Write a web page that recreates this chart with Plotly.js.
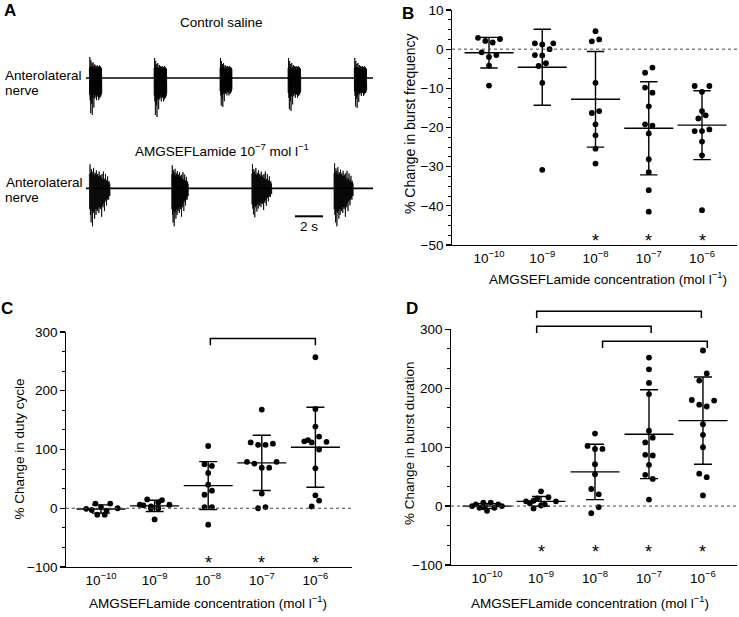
<!DOCTYPE html>
<html><head><meta charset="utf-8">
<script src="https://cdn.plot.ly/plotly-3.0.1.min.js"></script>
<style>html,body{margin:0;padding:0;background:#fff}#chart{width:739px;height:617px}</style>
</head><body><div id="chart"></div>
<script>
// ---------------- DATA ----------------
const concLabels = ['10<sup>−10</sup>','10<sup>−9</sup>','10<sup>−8</sup>','10<sup>−7</sup>','10<sup>−6</sup>'];
const xTitleText = 'AMGSEFLamide concentration (mol l<sup>−1</sup>)';

// Panel B: % change in burst frequency
const bfVals = [
  [2.9, 2.1, 1.7, 2.6, -0.8, -1.5, -2.0, -4.2, -9.3],
  [1.5, 1.2, 1.5, 0.0, -1.5, -1.6, -3.6, -4.3, -8.6, -30.8],
  [4.6, 2.0, 2.5, -8.6, -16.3, -15.8, -19.2, -22.0, -25.4, -29.2],
  [-6.0, -4.7, -9.8, -11.1, -14.6, -19.2, -19.5, -21.5, -28.1, -31.4, -36.0, -41.5],
  [-9.4, -9.4, -10.9, -15.8, -16.9, -17.7, -20.9, -20.9, -20.5, -23.6, -27.1, -41.1]
];
const bfJitter = [
  [-3, -1, 1, 3, -2, 2, 0, 0, 0],
  [-2, 0, 3, 2, -2, 0, 1, -1, 0, 0],
  [0, -1, 1, 0, -1, 1, 0, 0, 0, 0],
  [-1, 1, -1, 1, 0, -1, 1, 0, 0, 0, 0, 0],
  [-2, 2, 0, 0, 1, -1, -2, 0, 2, 0, 0, 0]
];
const bfMean = [-0.9, -4.6, -12.8, -20.2, -19.4];
const bfSD = [3.9, 9.7, 12.2, 11.9, 8.8];
const bfSig = [2, 3, 4];

// Panel C: % change in duty cycle
const dcVals = [
  [-1, 8, 8, 0, -3, 2, -4, -11, -11],
  [6, 15, 14, 6, 5, 3, 0, 0, -19, 10],
  [106, 75, 72, 60, 40, 23, 30, 2, 2, -28],
  [168, 112, 108, 108, 110, 79, 76, 69, 69, 79, 25, 0, 2],
  [257, 169, 139, 114, 116, 112, 122, 113, 100, 68, 22, 13, 3]
];
const dcJitter = [
  [-4, -1.5, 2.5, 4.5, -2.5, 0, 1.5, -1, 1],
  [-4, -2, 2, 4, -3, -1, -1, 1, 0, 1],
  [0, -1, 1, 0, 0, -1, 1, -1, 1, 0],
  [0, -3, -1, 1, 3, -4, -2, 0, 2, 4, 0, -1, 1],
  [0, 0, 0, -3, -2, -1, 1, 3, 1, 0, 0, 1, -1]
];
const dcMean = [-1.3, 4, 38.5, 77.3, 103.8];
const dcSD = [7, 9.6, 40.8, 47, 68];
const dcSig = [2, 3, 4];
const dcBrackets = [[2.04, 4.0, 289]];

// Panel D: % change in burst duration
const bdVals = [
  [0, 3, 6, 6, 3, 0, -3, -8, -3, -2],
  [25, 8, 9, 15, 8, 13, 5, 3, -4, 1],
  [123, 102, 97, 97, 71, 54, 29, 20, -2, -12],
  [252, 232, 209, 190, 128, 116, 108, 87, 86, 70, 53, 46, 11],
  [264, 225, 213, 180, 172, 169, 179, 139, 121, 100, 55, 49, 18]
];
const bdJitter = [
  [-4, -3, -1, 1, 3, 4, -2, 0, 2, -1],
  [0, -4, -2, 2, 4, -1, -3, 1, -2, 0],
  [0, -2, 0, 2, 0, 0, -1, 1, 1, -1],
  [0, 0, 0, 0, 0, 1, -1, -1, 1, 0, -1, 1, 0],
  [0, 1, -1, -3, -1, 1, 3, 0, 0, 0, -1, 1, 0]
];
const bdMean = [0, 8, 58, 122, 145];
const bdSD = [4, 8.3, 47, 75.5, 74];
const bdSig = [1, 2, 3, 4];
const bdBrackets = [[0.92, 3.97, 330.6], [0.92, 3.04, 305], [2.14, 4.08, 279.6]];

// Panel A: nerve recordings (time in s, amplitude in arbitrary units)
const recordingLength = 20.5;
const ctrlOnsets = [0.24, 4.86, 9.57, 14.43, 19.16];
const ctrlDurations = [0.89, 0.91, 0.86, 0.91, 0.89];
const ctrlPeakUp = [21, 20, 20, 20, 20];
const ctrlPeakDown = [37, 39, 29, 33, 30];
const ctrlTemplate = [0.5,-0.45, 1.0,-0.6, 0.55,-0.95, 0.85,-0.5, 0.55,-0.7, 0.7,-1.0, 0.5,-0.55, 0.75,-0.45,
  0.55,-0.8, 0.45,-0.5, 0.65,-0.55, 0.5,-0.45, 0.6,-0.5, 0.45,-0.6, 0.55,-0.45, 0.6,-0.5, 0.45,-0.5, 0.55,-0.6,
  0.5,-0.45, 0.6,-0.55, 0.5,-0.5, 0.55,-0.5, 0.5,-0.45, 0.45,-0.4];
const amgOnsets = [0.24, 6.12, 11.84, 17.71];
const amgDurations = [1.48, 1.19, 1.43, 1.38];
const amgPeakUp = [24, 23, 24, 25];
const amgPeakDown = [38, 38, 29, 38];
const amgTemplate = [0.6,-0.55, 1.0,-0.7, 0.65,-0.9, 0.8,-0.6, 0.7,-1.0, 0.6,-0.65, 0.85,-0.6, 0.55,-0.8,
  0.65,-0.55, 0.6,-0.7, 0.75,-0.55, 0.55,-0.6, 0.6,-0.5, 0.5,-0.65, 0.7,-0.5, 0.5,-0.55, 0.55,-0.5, 0.45,-0.75,
  0.6,-0.45, 0.4,-0.5, 0.7,-0.4, 0.35,-0.6, 0.4,-0.35, 0.6,-0.3, 0.3,-0.45, 0.35,-0.3, 0.5,-0.25, 0.25,-0.3,
  0.3,-0.2, 0.2,-0.2];
const scaleBarSeconds = 2;

// ---------------- LAYOUT HELPERS ----------------
const W = 739, H = 617;
const FONT = 'Liberation Sans, Arial, sans-serif';
const BLACK = '#000';
const FS = 13.5;
const JSTEP = 0.069;
const fx = px => px / W;
const fy = py => 1 - py / H;

const traces = [];
const shapes = [];
const annotations = [];
const layout = {
  width: W, height: H, margin: {l:0, r:0, t:0, b:0},
  paper_bgcolor: '#fff', plot_bgcolor: 'rgba(0,0,0,0)',
  showlegend: false, font: {family: FONT, size: FS, color: BLACK},
  shapes, annotations
};

function txt(text, px, py, size, extra) {
  annotations.push(Object.assign({
    text, x: fx(px), y: fy(py), xref: 'paper', yref: 'paper',
    xanchor: 'center', yanchor: 'middle', showarrow: false,
    font: {family: FONT, size, color: BLACK}
  }, extra || {}));
}

const panels = [
  {xa:'x', ya:'y', vals:bfVals, jit:bfJitter, mean:bfMean, sd:bfSD, sig:bfSig, sigY:-47.7,
   brackets:[], xpx:[452,737], ypx:[10,245], xr:[-0.695,4.657], yr:[-50,10], dtick:10, minor:2.5,
   meanW:35, capW:8.7},
  {xa:'x2', ya:'y2', vals:dcVals, jit:dcJitter, mean:dcMean, sd:dcSD, sig:dcSig, sigY:-84,
   brackets:dcBrackets, xpx:[66,352], ypx:[332,567], xr:[-0.653,4.683], yr:[-100,300], dtick:100, minor:100/3,
   meanW:35, capW:9},
  {xa:'x3', ya:'y3', vals:bdVals, jit:bdJitter, mean:bdMean, sd:bdSD, sig:bdSig, sigY:-69.6,
   brackets:bdBrackets, xpx:[451,737], ypx:[329.3,565], xr:[-0.667,4.63], yr:[-100,300], dtick:100, minor:100/3,
   meanW:35, capW:9}
];

panels.forEach(p => {
  const xk = 'xaxis' + p.xa.slice(1), yk = 'yaxis' + p.ya.slice(1);
  layout[xk] = {
    domain: [fx(p.xpx[0]), fx(p.xpx[1])], range: p.xr, anchor: p.ya,
    showgrid:false, zeroline:false, showline:true, linecolor:BLACK, linewidth:1.3,
    ticks:'', tickmode:'array', tickvals:[0,1,2,3,4], ticktext:concLabels,
    tickfont:{family:FONT, size:FS, color:BLACK}, fixedrange:true
  };
  layout[yk] = {
    domain: [fy(p.ypx[1]), fy(p.ypx[0])], range: p.yr, anchor: p.xa,
    showgrid:false, zeroline:false, showline:true, linecolor:BLACK, linewidth:1.3,
    ticks:'outside', ticklen:4.5, tickwidth:1.3, tickcolor:BLACK, tick0:0, dtick:p.dtick,
    minor:{ticks:'outside', ticklen:2.5, tickwidth:1, tickcolor:BLACK, tick0:0, dtick:p.minor},
    tickfont:{family:FONT, size:FS, color:BLACK}, fixedrange:true
  };
  const toFx = v => (v - p.xr[0]) / (p.xr[1] - p.xr[0]);
  const toFy = v => (v - p.yr[0]) / (p.yr[1] - p.yr[0]);
  // zero reference line
  shapes.push({type:'line', xref:p.xa+' domain', yref:p.ya+' domain', x0:0, x1:1, y0:toFy(0), y1:toFy(0),
    line:{color:'#444', width:1, dash:'dot'}});
  // points
  const xs = [], ys = [];
  p.vals.forEach((g, i) => g.forEach((v, j) => { xs.push(i + p.jit[i][j] * JSTEP); ys.push(v); }));
  traces.push({type:'scatter', mode:'markers', x:xs, y:ys, xaxis:p.xa, yaxis:p.ya,
    marker:{color:BLACK, size:5.8}, hoverinfo:'skip', cliponaxis:false});
  // mean ± SD
  traces.push({type:'scatter', mode:'markers', x:[0,1,2,3,4], y:p.mean, xaxis:p.xa, yaxis:p.ya,
    marker:{symbol:'line-ew', size:p.meanW, color:BLACK, line:{color:BLACK, width:1.4}},
    error_y:{type:'data', array:p.sd, visible:true, color:BLACK, thickness:1.4, width:p.capW},
    hoverinfo:'skip', cliponaxis:false});
  // significance stars
  p.sig.forEach(i => annotations.push({text:'*', x:i, y:p.sigY, xref:p.xa, yref:p.ya,
    showarrow:false, xanchor:'center', yanchor:'middle', yshift:-5, font:{family:FONT, size:18, color:BLACK}}));
  // brackets
  const leg = (p.yr[1] - p.yr[0]) * 6.7 / (p.ypx[1] - p.ypx[0]);
  p.brackets.forEach(b => {
    const x0 = toFx(b[0]), x1 = toFx(b[1]), yt = toFy(b[2]), yb = toFy(b[2] - leg);
    shapes.push({type:'path', xref:p.xa+' domain', yref:p.ya+' domain',
      path:`M${x0},${yb} L${x0},${yt} L${x1},${yt} L${x1},${yb}`, line:{color:BLACK, width:1.5}});
  });
});

// ---------- Panel A ----------
function burstTrace(onsets, durs, up, down, tpl, xa, ya) {
  const xs = [], ys = [];
  onsets.forEach((t0, b) => {
    tpl.forEach((a, i) => { xs.push(t0 + durs[b] * i / (tpl.length - 1)); ys.push(a > 0 ? a * up[b] : a * down[b]); });
    xs.push(null); ys.push(null);
  });
  return {type:'scatter', mode:'lines', x:xs, y:ys, xaxis:xa, yaxis:ya,
    line:{color:'rgba(0,0,0,0.85)', width:0.9, simplify:false}, hoverinfo:'skip', connectgaps:false};
}
const aX = [-0.4286, 21.0];
const recs = [
  {xa:'x4', ya:'y4', ypx:[50,125], yr:[-47,28], on:ctrlOnsets, du:ctrlDurations, up:ctrlPeakUp, dn:ctrlPeakDown, tpl:ctrlTemplate},
  {xa:'x5', ya:'y5', ypx:[155,240], yr:[-51.7,33.3], on:amgOnsets, du:amgDurations, up:amgPeakUp, dn:amgPeakDown, tpl:amgTemplate}
];
recs.forEach(r => {
  layout['xaxis' + r.xa.slice(1)] = {domain:[fx(80), fx(380)], range:aX, anchor:r.ya, visible:false, fixedrange:true};
  layout['yaxis' + r.ya.slice(1)] = {domain:[fy(r.ypx[1]), fy(r.ypx[0])], range:r.yr, anchor:r.xa, visible:false, fixedrange:true};
  traces.push({type:'scatter', mode:'lines', x:[0, recordingLength], y:[0, 0], xaxis:r.xa, yaxis:r.ya,
    line:{color:BLACK, width:1.7}, hoverinfo:'skip'});
  traces.push(burstTrace(r.on, r.du, r.up, r.dn, r.tpl, r.xa, r.ya));
});
// scale bar (2 s) in AMG recording axes
{
  const t0 = 14.93, yv = -28;
  const f = v => (v - aX[0]) / (aX[1] - aX[0]);
  const g = v => (v - recs[1].yr[0]) / (recs[1].yr[1] - recs[1].yr[0]);
  shapes.push({type:'line', xref:'x5 domain', yref:'y5 domain', x0:f(t0), x1:f(t0 + scaleBarSeconds), y0:g(yv), y1:g(yv),
    line:{color:BLACK, width:2}});
}

// ---------- Texts ----------
txt('<b>A</b>', 10, 11, 17);
txt('<b>B</b>', 408, 13, 17);
txt('<b>C</b>', 7, 308, 17);
txt('<b>D</b>', 412, 308, 17);
txt('Control saline', 221, 23, FS);
txt('AMGSEFLamide 10<sup>−7</sup> mol l<sup>−1</sup>', 222, 150, FS);
txt('Anterolateral', 2.7, 75, FS, {xanchor:'left'});
txt('nerve', 2.7, 90.5, FS, {xanchor:'left'});
txt('Anterolateral', 4, 182, FS, {xanchor:'left'});
txt('nerve', 2.7, 197, FS, {xanchor:'left'});
txt(scaleBarSeconds + ' s', 309.3, 227, FS);

txt(xTitleText, 608, 278, FS);
txt(xTitleText, 207.5, 602, FS);
txt(xTitleText, 590, 602, FS);
txt('% Change in burst frequency', 410, 124, 14, {textangle:-90});
txt('% Change in duty cycle', 18.5, 449, FS, {textangle:-90});
txt('% Change in burst duration', 409, 443, FS, {textangle:-90});

Plotly.newPlot('chart', traces, layout, {staticPlot:true, displayModeBar:false});
</script>
</body></html>
